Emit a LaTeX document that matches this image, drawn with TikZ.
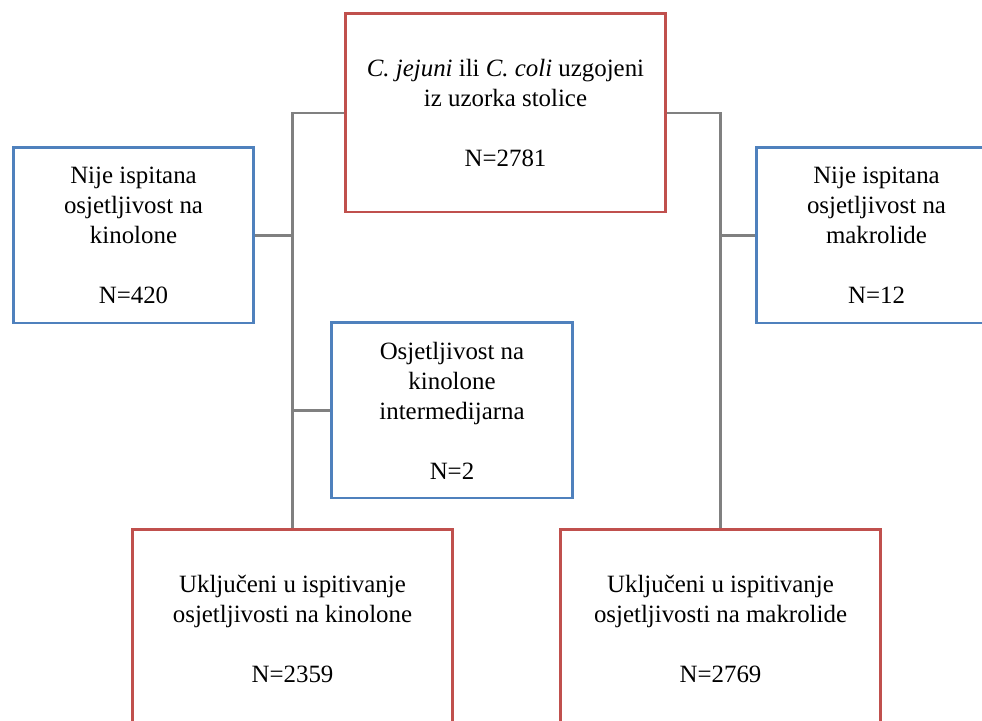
\documentclass[tikz,border=0pt]{standalone}
\usepackage{fontspec}
\setmainfont{Liberation Serif}
\usepackage{tikz}
\usetikzlibrary{positioning}
\definecolor{boxred}{RGB}{192,80,77}
\definecolor{boxblue}{RGB}{79,129,189}
\definecolor{linkgray}{RGB}{128,128,128}
\tikzset{
  redbox/.style={draw=boxred,line width=2.1pt,fill=white,align=center,
    minimum width=7.975cm,minimum height=4.95cm,
    font=\fontsize{17.7}{21.3}\selectfont},
  bluebox/.style={draw=boxblue,line width=2.1pt,fill=white,align=center,
    minimum width=5.975cm,minimum height=4.375cm,
    font=\fontsize{17.7}{21.3}\selectfont},
  link/.style={draw=linkgray,line width=1.7pt}
}
\begin{document}
\begin{tikzpicture}[x=0.025cm,y=-0.025cm]
 %page frame
    \useasboundingbox (0,0) rectangle (982,721);
    \clip (0,0) rectangle (982,721);
  %draw boxes
    \node[redbox] (top) at (505.5,113) {\textit{C. jejuni} ili \textit{C. coli} uzgojeni\\iz uzorka stolice\\[\baselineskip]N=2781};
    \node[bluebox] (nokin) at (133.5,235.5) {Nije ispitana\\osjetljivost na\\kinolone\\[\baselineskip]N=420};
    \node[bluebox] (nomak) at (876.5,235.5) {Nije ispitana\\osjetljivost na\\makrolide\\[\baselineskip]N=12};
    \node[bluebox,minimum width=6cm] (intkin) at (452,410.5) {Osjetljivost na\\kinolone\\intermedijarna\\[\baselineskip]N=2};
    \node[redbox] (inkin) at (292.5,629) {Uključeni u ispitivanje\\osjetljivosti na kinolone\\[\baselineskip]N=2359};
    \node[redbox] (inmak) at (720.5,629) {Uključeni u ispitivanje\\osjetljivosti na makrolide\\[\baselineskip]N=2769};
  %draw edges
    \begin{scope}[on background layer/.try]
    \draw[link] (top.west) -| (inkin.north);
    \draw[link] (top.east) -| (inmak.north);
    \draw[link] (nokin.east) -- (nokin.east -| inkin.north);
    \draw[link] (intkin.west) -- (intkin.west -| inkin.north);
    \draw[link] (nomak.west) -- (nomak.west -| inmak.north);
    \end{scope}
\end{tikzpicture}
\end{document}
